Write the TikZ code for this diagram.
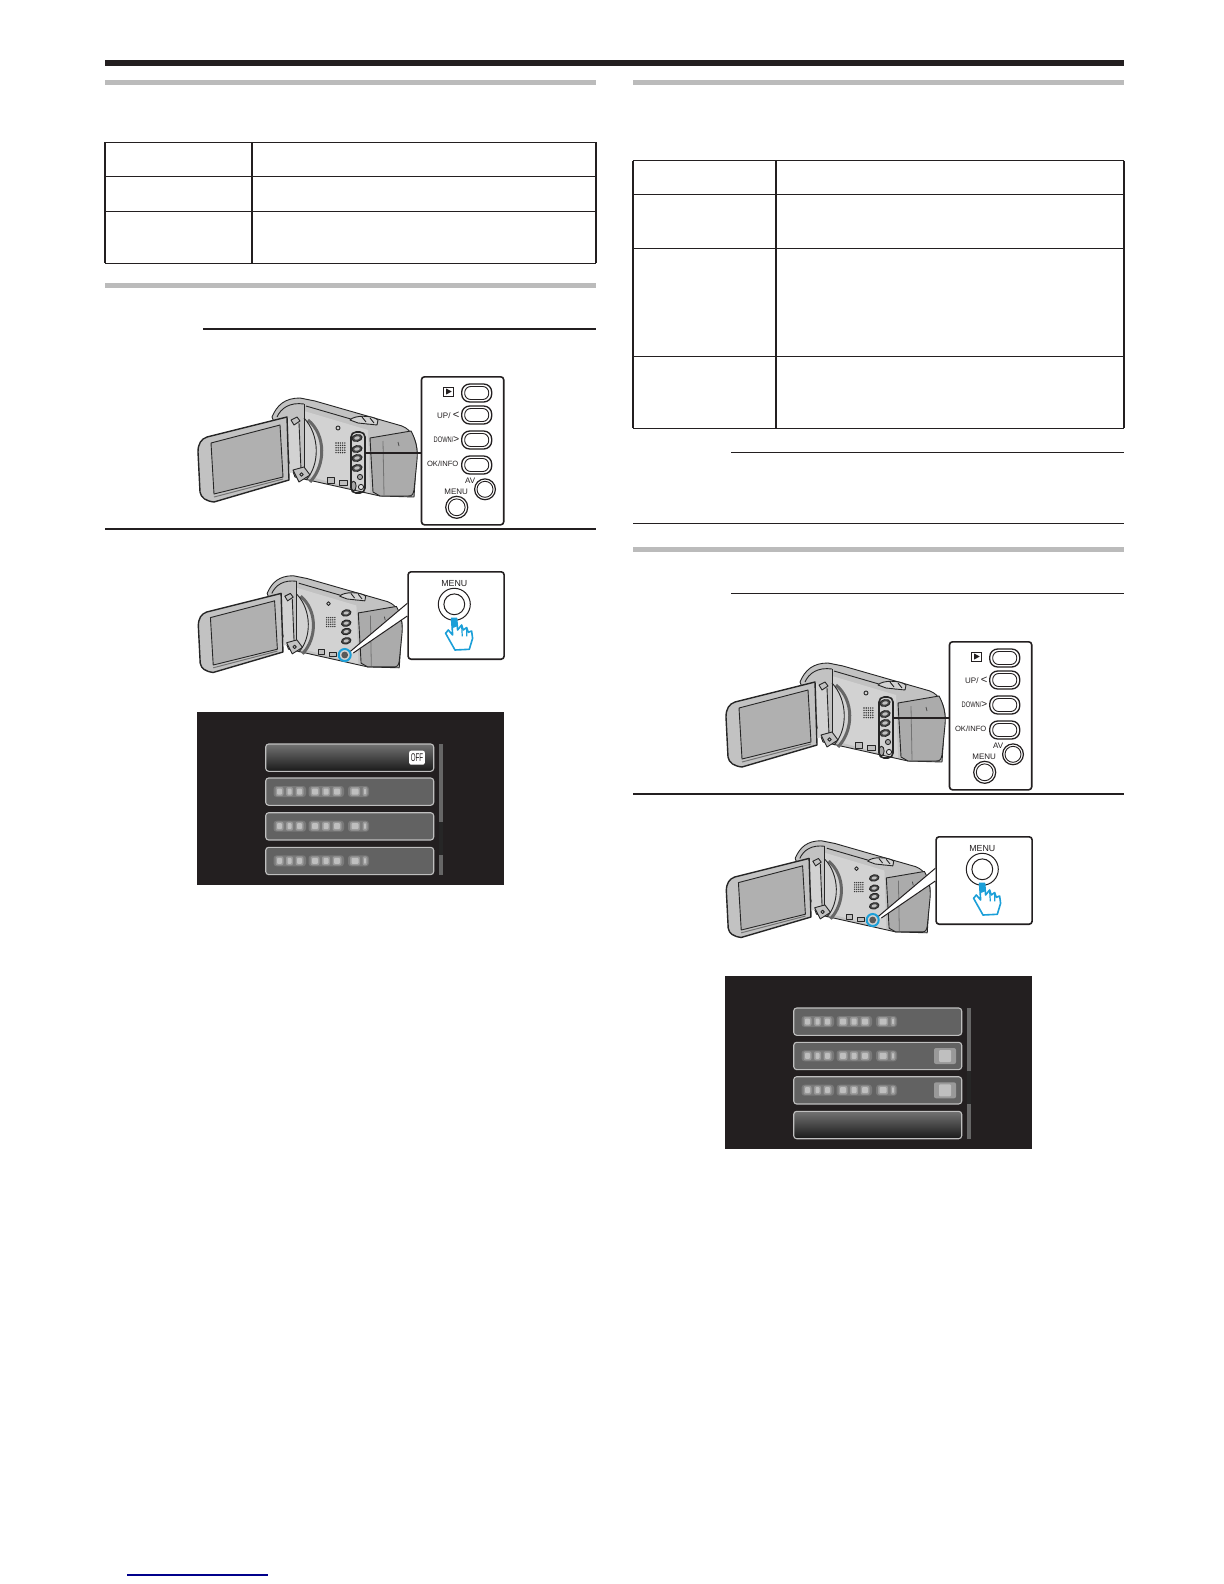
\documentclass[tikz,border=0pt]{standalone}
\usepackage{fontspec}
\setmainfont{Liberation Sans}
\definecolor{barcol}{HTML}{231F20}
\definecolor{rulegray}{HTML}{BBBBBB}
\definecolor{touchblue}{HTML}{1B9FD8}
\definecolor{linkblue}{HTML}{00008B}
\definecolor{camgray}{HTML}{C2C2C2}
\definecolor{camlight}{HTML}{D2D2D2}
\definecolor{gripgray}{HTML}{ABABAB}
\definecolor{lcdgray}{HTML}{B0B0B0}
\definecolor{osdback}{HTML}{231F20}
\definecolor{rowgray}{HTML}{626262}
\tikzset{
  camline/.style={draw=black!85,line width=.45pt,line join=round},
  tablerule/.style={draw=barcol,line width=.6pt},
  notehead/.style={draw=barcol,line width=.6pt},
  stepend/.style={draw=barcol,line width=1pt},
  leader/.style={draw=barcol,line width=.9pt},
  boxframe/.style={draw=barcol,line width=.8pt,rounded corners=1.5pt,fill=white,inner sep=0pt,anchor=north west},
  keyring/.style={draw=barcol,line width=.65pt,rounded corners=4pt},
  keytext/.style={font=\fontsize{4}{4}\selectfont,inner sep=0pt,text=barcol},
  osdrow/.style={draw=black!25,line width=.55pt,rounded corners=1.5pt,fill=rowgray},
  osdpick/.style={draw=black!25,line width=.55pt,rounded corners=1.5pt,top color=black!55,bottom color=black!90},
  blurhalo/.style={fill=black!52,rounded corners=1.5pt},
  blurblock/.style={fill=black!40,rounded corners=1pt},
  blurcore/.style={fill=black!25,rounded corners=.5pt},
  camcorder/.pic={
    % body and lens barrel
    \draw[camline,fill=camgray] (92,57) .. controls (97,45) and (105,38) .. (120,38) -- (135,41) -- (222,66)
      .. controls (232,70) and (236,80) .. (237,90) -- (234,137) -- (200,136) -- (115,117) -- cycle;
    \draw[camline] (97,57) .. controls (101,48) and (110,42) .. (124,44);
    \fill[camlight] (124,51) -- (188,70) -- (190,133) -- (124,115) -- cycle;
    \draw[camline] (124,44) -- (124,115);
    \draw[camline] (126,46) -- (188,64);
    \draw[camline,fill=camlight] (170,60) .. controls (174,55) and (192,55) .. (198,60) -- (197,65) -- (178,63) -- cycle;
    \draw[camline] (182,57) -- (186,62) (190,58) -- (194,63);
    % grip
    \draw[camline,fill=gripgray] (190,78) -- (231,71) .. controls (236,80) and (238,90) .. (237,100) -- (234,130)
      .. controls (233,135) and (232,136) .. (228,136) -- (200,136) -- (193,132) -- cycle;
    \draw[black!55,line width=.4pt] (203,81) -- (204,135);
    \draw[black!70,line width=.4pt] (218,82) -- (219,86);
    % arc on the side
    \draw[black!60,line width=1.5pt] (128,60) .. controls (146,75) and (146,105) .. (130,122);
    \draw[camline] (124,58) .. controls (140,75) and (140,105) .. (126,120);
    % speaker dots and screw
    \foreach \dx in {0,...,4}
      \foreach \dy in {0,...,4}
        \fill[black!80] (156+2.2*\dx,83+2.4*\dy) circle (.4pt);
    \draw[camline] (158,68) circle (1pt);
    % keys on the side
    \foreach \ky in {78,89,98,108} {
      \draw[camline,fill=black!70,rotate around={12:(177,\ky)}] (177,\ky) ellipse (2.6pt and 1.7pt);
      \fill[black!25,rotate around={12:(177,\ky)}] (177,\ky) ellipse (1.4pt and .8pt);
    }
    \draw[camline,fill=black!25] (147,117) rectangle +(7,6);
    \draw[camline,fill=black!25] (159,120) rectangle +(8,5);
    % hinge
    \fill[camlight] (108,58) -- (119,63) -- (121,110) -- (110,113) -- cycle;
    \draw[camline] (119,63) -- (121,110);
    \draw[camline,fill=camgray] (113,110) -- (124,107) -- (130,115) -- (119,122) -- cycle;
    \draw[camline] (121.5,114.5) circle (.9pt);
    \draw[camline,fill=camgray] (111,60) -- (117,57) -- (120,61) -- (114,65) -- cycle;
    % lcd panel
    \draw[camline,line width=.7pt,fill=camgray] (18,92) .. controls (18,84) and (21,79) .. (27,77) -- (107,57)
      -- (109,120) -- (34,142) .. controls (26,141) and (21,138) .. (20,132) -- cycle;
    \draw[camline,fill=lcdgray] (31,83) -- (100,65) -- (103,117) -- (34,134) -- cycle;
    \draw[black!55,line width=.5pt] (34,137) -- (103,119);
  },
  camgroup/.pic={
    \draw[camline,fill=black!35] (180,117) circle (1.3pt);
    \draw[camline,fill=black!35] (173.5,126) ellipse (1.3pt and 2.4pt);
    \draw[camline,fill=black!10] (181,127) circle (1.3pt);
    \draw[camline,line width=.8pt,rounded corners=2.5pt] (171,72) rectangle (185,133);
    \coordinate (leadstart) at (185,93.3);
  },
  btnpanel/.pic={
    \node[boxframe,minimum width=41.1pt,minimum height=74pt] (frame) at (0,0) {};
    \foreach \ky in {17,39,64,89} {
      \draw[keyring] (41,\ky-9) rectangle (71,\ky+9);
      \draw[keyring,line width=.45pt,rounded corners=3pt] (44,\ky-6.5) rectangle (68,\ky+6.5);
    }
    \draw[barcol,line width=.6pt] (64.3,113.3) circle (5.2pt);
    \draw[barcol,line width=.45pt] (64.3,113.3) circle (4pt);
    \draw[barcol,line width=.6pt] (36,131.3) circle (5.5pt);
    \draw[barcol,line width=.45pt] (36,131.3) circle (4.2pt);
    \draw[barcol,line width=.5pt] (23,11) rectangle (33,20);
    \fill[barcol] (25.5,12.5) -- (31,15.5) -- (25.5,18.5) -- cycle;
    \node[keytext,anchor=east] (uplab) at (39,39.5) {UP/ {\fontsize{5.6}{5.6}\selectfont <}};
    \node[keytext,anchor=east] (downlab) at (39,64) {\scalebox{.72}[1]{DOWN/}{\fontsize{5}{5}\selectfont >}};
    \node[keytext,anchor=east,font=\fontsize{3.8}{3.8}\selectfont] (oklab) at (38,88) {OK/INFO};
    \node[keytext] (avlab) at (49.5,104.5) {AV};
    \node[keytext] (menulab) at (35.5,116) {MENU};
  },
  menubox/.pic={
    \node[boxframe,minimum width=48pt,minimum height=43.7pt] (frame) at (0,0) {};
    \node[keytext,font=\fontsize{4.4}{4.4}\selectfont] (menulab) at (47,13) {MENU};
    \draw[barcol,line width=.5pt,fill=white] (47,33.3) circle (8pt);
    \draw[barcol,line width=.5pt] (47,33.3) circle (5.2pt);
    % hand pressing the key
    \begin{scope}[shift={(47,33.3)}]
      \draw[touchblue,line width=.8pt,fill=white,line join=round] (-2.7,14) -- (2.3,14) -- (3.3,25.7) -- (7.3,20.7) -- (9,25.7)
        -- (12.3,23.3) -- (14,28) -- (17.3,26.7) -- (18.3,34) -- (15,45) -- (.7,45.7) -- (-8.7,29) -- (-6,25.7) -- (-1.7,30.7) -- cycle;
      \fill[touchblue] (-2.7,14) -- (2.3,14) -- (2.9,22) -- (-2.3,24) -- cycle;
      \draw[touchblue,line width=.6pt] (7.3,20.7) -- (8,32) (12.3,23.3) -- (12.5,32);
    \end{scope}
  },
  osdframe/.pic={
    \fill[osdback] (0,0) rectangle (307,172.5);
    \fill[black!60] (241.7,32) rectangle (246,162.7);
  },
  osdscroll/.pic={
    \fill[black!85] (241.7,0) rectangle (246,32.7);
  },
  blurtext/.pic={
    \fill[blurhalo] (76.5,-5.5) rectangle (109,5.5);
    \fill[blurhalo] (111.5,-5.5) rectangle (147,5.5);
    \fill[blurhalo] (151,-5.5) rectangle (172,5.5);
    \foreach \bx/\bw in {82.5/4,92.5/3.5,102.5/4,118/4.5,129/4,140/4.5,158/5,168/2.5} {
      \fill[blurblock] (\bx-\bw,-4.5) rectangle (\bx+\bw,4.5);
      \fill[blurcore] (\bx-\bw+1.5,-3) rectangle (\bx+\bw-1.5,3);
    }
  },
}
\begin{document}
\begin{tikzpicture}[x=.5pt,y=-.5pt]
  \useasboundingbox[fill=white] (0,0) rectangle (1224,1584);

  % page head and section bars
  \fill[barcol] (105,60) rectangle (1124,66);
  \fill[rulegray] (105,80) rectangle (596,85);
  \fill[rulegray] (105,283) rectangle (596,288);
  \fill[rulegray] (633,80) rectangle (1124,85);
  \fill[rulegray] (633,547) rectangle (1124,552);

  % left table
  \foreach \ry in {142.3,176.3,211.3,263.3}
    \draw[tablerule] (105,\ry) -- (596,\ry);
  \foreach \rx in {105,252}
    \draw[tablerule] (\rx,142.3) -- (\rx,263.3);
  \draw[tablerule,line width=1pt] (596,142.3) -- (596,263.3);

  % right table
  \foreach \ry in {160.5,194.3,248.5,356.5,428.3}
    \draw[tablerule] (633,\ry) -- (1124,\ry);
  \foreach \rx in {633,776}
    \draw[tablerule] (\rx,160.5) -- (\rx,428.3);
  \draw[tablerule,line width=1pt] (1124,160.5) -- (1124,428.3);

  % note and step lines
  \draw[stepend] (203,328.7) -- (596,328.7);
  \draw[stepend] (105,529) -- (596,529);
  \draw[notehead] (731,452.4) -- (1124,452.4);
  \draw[notehead] (633,523.3) -- (1124,523.3);
  \draw[notehead] (731,593.3) -- (1124,593.3);
  \draw[stepend] (633,794) -- (1124,794);

  % left column: camera with keys
  \pic (cama) at (180,360) {camcorder};
  \pic (cama) at (180,360) {camgroup};
  \pic (keysa) at (420.7,376) {btnpanel};
  \draw[leader] (camaleadstart) -- (camaleadstart -| keysaframe.west);

  % left column: camera with menu key
  \pic[scale=.93] (camb) at (181.6,540.4) {camcorder};
  \pic (menub) at (407.3,571) {menubox};
  \coordinate (touchb) at (344.7,655);
  \coordinate (leadb) at (350,651.7);
  \coordinate (leadc) at (353.3,653);
  \coordinate (wedgeb) at (407.3,603.3);
  \coordinate (wedgec) at (407.3,616);
  \fill[white] (leadb) -- (wedgeb) -- (wedgec) -- (leadc) -- cycle;
  \draw[barcol,line width=.5pt] (leadb) -- (wedgeb) (leadc) -- (wedgec);
  \fill[black!65] (touchb) circle (1.7pt);
  \draw[touchblue,line width=1pt] (touchb) circle (3pt);

  % left column: menu screen
  \begin{scope}[shift={(197,712)}]
    \pic (osda) at (0,0) {osdframe};
    \pic at (0,110) {osdscroll};
    \draw[osdpick] (68.7,32) rectangle (236.7,59.3);
    \foreach \ry in {66,100.7,135.3} {
      \draw[osdrow] (68.7,\ry) rectangle (236.7,\ry+27.3);
      \pic at (0,\ry+13.5) {blurtext};
    }
    \node[fill=white,rounded corners=1pt,minimum width=7.8pt,minimum height=7pt,inner sep=0pt,
      font=\fontsize{5.6}{5.6}\selectfont,text=barcol] (offtag) at (220,45.7) {\scalebox{.55}[1]{OFF}};
  \end{scope}

  % right column: camera with keys
  \pic (camc) at (708,625) {camcorder};
  \pic (camc) at (708,625) {camgroup};
  \pic (keysc) at (948.7,641) {btnpanel};
  \draw[leader] (camcleadstart) -- (camcleadstart -| keyscframe.west);

  % right column: camera with menu key
  \pic[scale=.93] (camd) at (709.6,805.4) {camcorder};
  \pic (menud) at (935.3,836) {menubox};
  \coordinate (touchd) at (872.7,920);
  \coordinate (leadd) at (878,916.7);
  \coordinate (leade) at (881.3,918);
  \coordinate (wedged) at (935.3,868.3);
  \coordinate (wedgee) at (935.3,881);
  \fill[white] (leadd) -- (wedged) -- (wedgee) -- (leade) -- cycle;
  \draw[barcol,line width=.5pt] (leadd) -- (wedged) (leade) -- (wedgee);
  \fill[black!65] (touchd) circle (1.7pt);
  \draw[touchblue,line width=1pt] (touchd) circle (3pt);

  % right column: menu screen
  \begin{scope}[shift={(725,976)}]
    \pic (osdb) at (0,0) {osdframe};
    \pic at (0,95) {osdscroll};
    \foreach \ry in {32,66.3,100.7} {
      \draw[osdrow] (68.7,\ry) rectangle (236.7,\ry+27.3);
      \pic at (0,\ry+13.5) {blurtext};
    }
    \foreach \ry in {80,114.3} {
      \fill[blurblock] (209,\ry-8) rectangle (231,\ry+8);
      \fill[blurcore] (214,\ry-6) rectangle (226,\ry+6);
    }
    \draw[osdpick] (68.7,135.3) rectangle (236.7,162.7);
  \end{scope}

  % link at the foot of the page
  \draw[linkblue,line width=.6pt] (127,1575) -- (268,1575);
\end{tikzpicture}
\end{document}
